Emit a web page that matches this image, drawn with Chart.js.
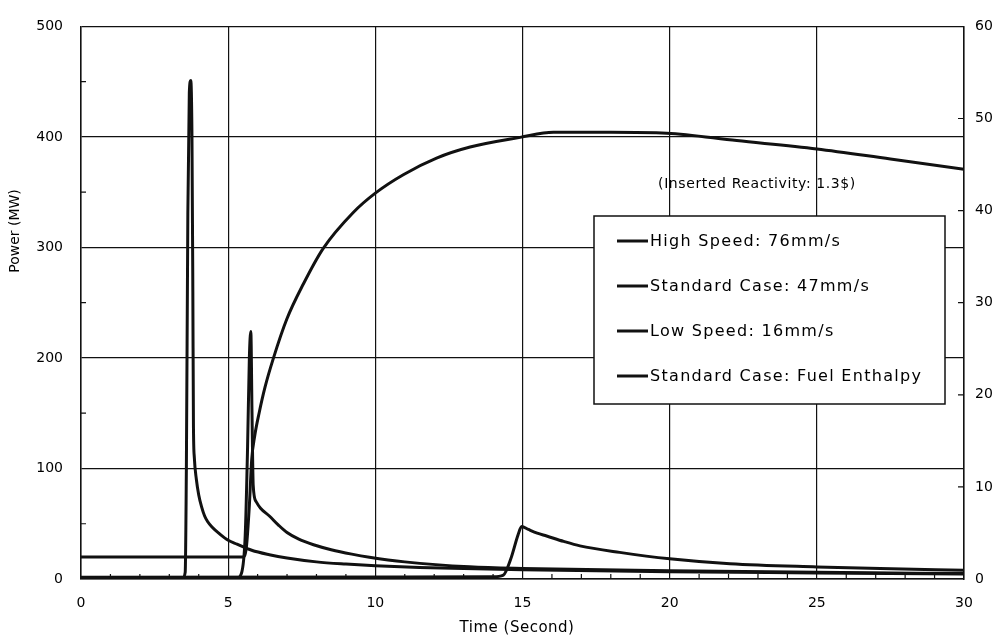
<!DOCTYPE html>
<html>
<head>
<meta charset="utf-8">
<script src="https://cdn.jsdelivr.net/npm/chart.js@4.4.0/dist/chart.umd.min.js"></script>
<style>
  html, body { margin: 0; padding: 0; background: #fff; }
  #wrap { width: 1005px; height: 640px; }
</style>
</head>
<body>
<div id="wrap"><canvas id="powerChart" width="1005" height="640"></canvas></div>
<script>
// Power transients (MW) for three rod withdrawal speeds
const highTime  = [0, 3.45, 3.54, 3.58, 3.63, 3.68, 3.73, 3.77, 3.80, 3.82, 3.85, 3.92, 4.0, 4.1, 4.2, 4.3, 4.45, 4.7, 5.0, 5.3, 5.8, 6.4, 7.0, 8.0, 9.0, 10.0, 11.5, 13.0, 15.0, 20.0, 25.0, 30.0];
const highPower = [0.5, 1, 6, 100, 330, 440, 451, 400, 260, 140, 110, 90, 76, 65, 57, 52, 47, 41, 35, 31.5, 26, 22, 19, 15.5, 13.5, 12, 10.5, 9.5, 8.3, 6.5, 5.5, 4.5];

const stdTime  = [0, 5.3, 5.45, 5.58, 5.66, 5.72, 5.77, 5.81, 5.85, 5.95, 6.1, 6.4, 6.7, 7.0, 7.4, 7.9, 8.5, 9.2, 9.8, 11.0, 13.2, 15.0, 20.0, 25.0, 30.0];
const stdPower = [0.5, 1, 5, 40, 120, 200, 224, 150, 85, 70, 64, 57, 49, 42, 36, 31, 26.5, 22.5, 19.7, 15.5, 11, 9.5, 7.5, 6, 5];

const lowTime  = [0, 14.0, 14.35, 14.6, 14.85, 14.97, 15.2, 15.5, 15.82, 16.4, 16.95, 18.3, 20.0, 22.05, 25.0, 27.15, 30.0];
const lowPower = [1.5, 2, 3.5, 18, 40, 47.5, 44.8, 41.5, 38.9, 34, 30, 24.1, 18.3, 13.8, 10.9, 9.4, 8];

// Fuel enthalpy for the standard case (right axis)
const enthTime  = [0, 5.5, 5.62, 5.72, 5.8, 5.9, 6.05, 6.25, 6.53, 6.99, 7.55, 8.23, 9.25, 10.0, 10.95, 12.08, 13.22, 14.92, 16.05, 18.0, 19.9, 22.28, 25.0, 27.5, 30.0];
const enthValue = [2.4, 2.4, 3.5, 8, 13, 15.5, 18, 20.8, 23.9, 28.2, 32.0, 35.9, 39.8, 41.9, 43.9, 45.7, 46.9, 47.95, 48.5, 48.5, 48.4, 47.6, 46.7, 45.6, 44.5];

const timeTicks     = [0, 5, 10, 15, 20, 25, 30];
const powerTicks    = [0, 100, 200, 300, 400, 500];
const enthalpyTicks = [0, 10, 20, 30, 40, 50, 60];

const legendLabels = [
    'High Speed: 76mm/s',
    'Standard Case: 47mm/s',
    'Low Speed: 16mm/s',
    'Standard Case: Fuel Enthalpy'
];
const noteText = '(Inserted Reactivity: 1.3$)';

const ink = '#111';
const font = 'DejaVu Sans';

function toPoints(xs, ys) {
    return xs.map((t, i) => ({ x: t, y: ys[i] }));
}

function curve(label, xs, ys, axis) {
    return {
        label: label,
        data: toPoints(xs, ys),
        yAxisID: axis,
        borderColor: ink,
        borderWidth: 3,
        pointRadius: 0,
        fill: false,
        cubicInterpolationMode: 'monotone'
    };
}

// Inner minor ticks, legend box, note and axis titles
const decorations = {
    id: 'decorations',
    afterDatasetsDraw(chart) {
        const { ctx, chartArea: a, scales } = chart;
        const x = scales.x, y = scales.y, y2 = scales.y2;
        ctx.save();

        ctx.strokeStyle = ink;
        ctx.lineWidth = 1.2;
        ctx.beginPath();
        for (let t = 1; t < 30; t++) {
            if (t % 5 === 0) continue;
            const px = x.getPixelForValue(t);
            ctx.moveTo(px, a.bottom);
            ctx.lineTo(px, a.bottom - 5);
        }
        for (let p = 50; p < 500; p += 100) {
            const py = y.getPixelForValue(p);
            ctx.moveTo(a.left, py);
            ctx.lineTo(a.left + 5, py);
        }
        for (let e = 10; e < 60; e += 10) {
            const py = y2.getPixelForValue(e);
            ctx.moveTo(a.right, py);
            ctx.lineTo(a.right - 6, py);
        }
        ctx.stroke();

        // legend box
        const bx = 594, by = 216, bw = 351, bh = 188;
        ctx.fillStyle = '#fff';
        ctx.fillRect(bx, by, bw, bh);
        ctx.lineWidth = 1.5;
        ctx.strokeRect(bx, by, bw, bh);

        ctx.fillStyle = '#000';
        ctx.font = '16px "' + font + '"';
        ctx.letterSpacing = '1.3px';
        ctx.textBaseline = 'middle';
        ctx.textAlign = 'left';
        legendLabels.forEach((txt, i) => {
            const ly = by + 25 + i * 45;
            ctx.lineWidth = 3;
            ctx.beginPath();
            ctx.moveTo(bx + 23, ly);
            ctx.lineTo(bx + 54, ly);
            ctx.stroke();
            ctx.fillText(txt, bx + 56, ly + 1);
        });

        ctx.font = '14px "' + font + '"';
        ctx.letterSpacing = '0.6px';
        ctx.textAlign = 'center';
        ctx.fillText(noteText, 757, 184);

        // axis titles
        ctx.letterSpacing = '0.5px';
        ctx.font = '15px "' + font + '"';
        ctx.fillText('Time (Second)', 517, 628);
        ctx.letterSpacing = '0px';
        ctx.font = '14px "' + font + '"';
        ctx.translate(15, 231);
        ctx.rotate(-Math.PI / 2);
        ctx.fillText('Power (MW)', 0, 0);

        ctx.restore();
    }
};

new Chart(document.getElementById('powerChart'), {
    type: 'line',
    data: {
        datasets: [
            curve(legendLabels[0], highTime, highPower, 'y'),
            curve(legendLabels[1], stdTime, stdPower, 'y'),
            curve(legendLabels[2], lowTime, lowPower, 'y'),
            curve(legendLabels[3], enthTime, enthValue, 'y2')
        ]
    },
    options: {
        responsive: false,
        animation: false,
        layout: { padding: { top: 13, left: 0, right: 0, bottom: 0 } },
        plugins: {
            legend: { display: false },
            tooltip: { enabled: false }
        },
        scales: {
            x: {
                type: 'linear',
                min: 0,
                max: 30,
                afterBuildTicks: s => { s.ticks = timeTicks.map(v => ({ value: v })); },
                afterFit: s => { s.height = 61; },
                grid: { color: ink, lineWidth: 1.2, drawTicks: false },
                border: { color: ink, width: 1.5 },
                ticks: {
                    color: '#000',
                    padding: 16,
                    maxRotation: 0,
                    font: { family: font, size: 14 }
                }
            },
            y: {
                type: 'linear',
                position: 'left',
                min: 0,
                max: 500,
                afterBuildTicks: s => { s.ticks = powerTicks.map(v => ({ value: v })); },
                afterFit: s => { s.width = 81; },
                grid: { color: ink, lineWidth: 1.2, drawTicks: false },
                border: { color: ink, width: 1.5 },
                ticks: {
                    color: '#000',
                    padding: 18,
                    font: { family: font, size: 14 }
                }
            },
            y2: {
                type: 'linear',
                position: 'right',
                min: 0,
                max: 60,
                afterBuildTicks: s => { s.ticks = enthalpyTicks.map(v => ({ value: v })); },
                afterFit: s => { s.width = 41; },
                grid: { display: false, drawTicks: false },
                border: { color: ink, width: 1.5 },
                ticks: {
                    color: '#000',
                    padding: 11,
                    font: { family: font, size: 14 }
                }
            }
        }
    },
    plugins: [decorations]
});
</script>
</body>
</html>
